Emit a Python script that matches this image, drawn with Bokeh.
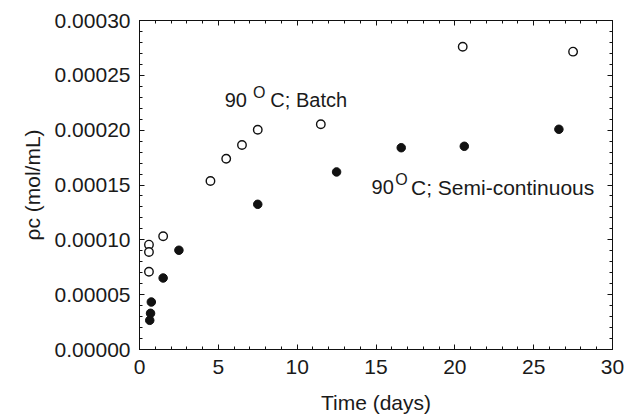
from bokeh.plotting import figure
from bokeh.models import (ColumnDataSource, LinearAxis, FixedTicker, NumeralTickFormatter,
                          Range1d, Label, CustomLabelingPolicy)
from bokeh.embed import file_html
from bokeh.resources import INLINE

# ---- data ----
batch_t = [0.6, 0.6, 0.6, 1.5, 4.5, 5.5, 6.5, 7.5, 11.5, 20.5, 27.5]
batch_rho = [0.0000956, 0.0000889, 0.0000709, 0.0001032, 0.0001537, 0.000174,
             0.0001865, 0.0002004, 0.0002054, 0.0002761, 0.0002716]
semi_t = [0.65, 0.7, 0.75, 1.5, 2.5, 7.5, 12.5, 16.6, 20.6, 26.6]
semi_rho = [0.0000266, 0.000033, 0.0000433, 0.0000652, 0.0000905, 0.0001324,
            0.0001619, 0.000184, 0.0001853, 0.0002008]
x_ticks = [0, 5, 10, 15, 20, 25, 30]
y_ticks = [0.0, 0.00005, 0.0001, 0.00015, 0.0002, 0.00025, 0.0003]

FONT = "Liberation Sans"
TXT = "#1a1a1a"

p = figure(width=626, height=419, output_backend="svg", toolbar_location=None,
           x_range=Range1d(0, 30), y_range=Range1d(0, 0.0003),
           min_border_left=139, min_border_right=14, min_border_top=20, min_border_bottom=70,
           x_axis_label="Time (days)", y_axis_label="ρc (mol/mL)")
p.grid.visible = False
p.outline_line_color = "#111111"
p.background_fill_color = "white"
p.border_fill_color = "white"

no_labels = CustomLabelingPolicy(code="return new Set()")

def style_axis(ax, ticks, minor, labels=True):
    ax.ticker = FixedTicker(ticks=ticks, minor_ticks=minor)
    ax.axis_line_color = "#111111"
    ax.axis_line_width = 1
    ax.major_tick_in = 5
    ax.major_tick_out = 0
    ax.minor_tick_in = 3
    ax.minor_tick_out = 0
    ax.major_tick_line_color = "#111111"
    ax.minor_tick_line_color = "#111111"
    if labels:
        ax.major_label_text_font = FONT
        ax.major_label_text_font_size = "21px"
        ax.major_label_text_color = TXT
        ax.axis_label_text_font = FONT
        ax.axis_label_text_font_size = "21px"
        ax.axis_label_text_font_style = "normal"
        ax.axis_label_text_color = TXT
    else:
        ax.major_label_policy = no_labels
        ax.major_label_text_font_size = "0px"
        ax.major_label_standoff = 0
        ax.axis_label_standoff = 0

x_minor = [i for i in range(0, 31)]
y_minor = [i * 0.00001 for i in range(0, 31)]

style_axis(p.xaxis[0], x_ticks, x_minor)
style_axis(p.yaxis[0], y_ticks, y_minor)
p.xaxis[0].major_label_standoff = 10
p.xaxis[0].axis_label_standoff = 14
p.yaxis[0].major_label_standoff = 9
p.yaxis[0].axis_label_standoff = 8
p.yaxis[0].formatter = NumeralTickFormatter(format="0.00000")

top = LinearAxis()
style_axis(top, x_ticks, x_minor, labels=False)
p.add_layout(top, "above")
right = LinearAxis()
style_axis(right, y_ticks, y_minor, labels=False)
p.add_layout(right, "right")

src_b = ColumnDataSource(dict(t=batch_t, rho=batch_rho))
src_s = ColumnDataSource(dict(t=semi_t, rho=semi_rho))
p.scatter("t", "rho", source=src_b, size=8.5, fill_color="white",
          line_color="#111111", line_width=1.4)
p.scatter("t", "rho", source=src_s, size=8.5, fill_color="#111111",
          line_color="#111111", line_width=1)

def deg_label(x0, xo, xc, yb, yo, rest, fs_rest):
    for x, y, t, fs in [(x0, yb, "90 ", "20px"), (xo, yo, "O", "16px"),
                        (xc, yb, rest, fs_rest)]:
        p.add_layout(Label(x=x, y=y, text=t, text_font=FONT, text_font_size=fs,
                           text_color=TXT, text_align="left",
                           text_baseline="alphabetic"))

deg_label(5.4, 7.2, 8.3, 0.0002276, 0.0002346, "C; Batch", "20px")
deg_label(14.72, 16.22, 17.22, 0.000148, 0.000155, "C; Semi-continuous", "21px")

open("out.html", "w").write(file_html(p, INLINE))
